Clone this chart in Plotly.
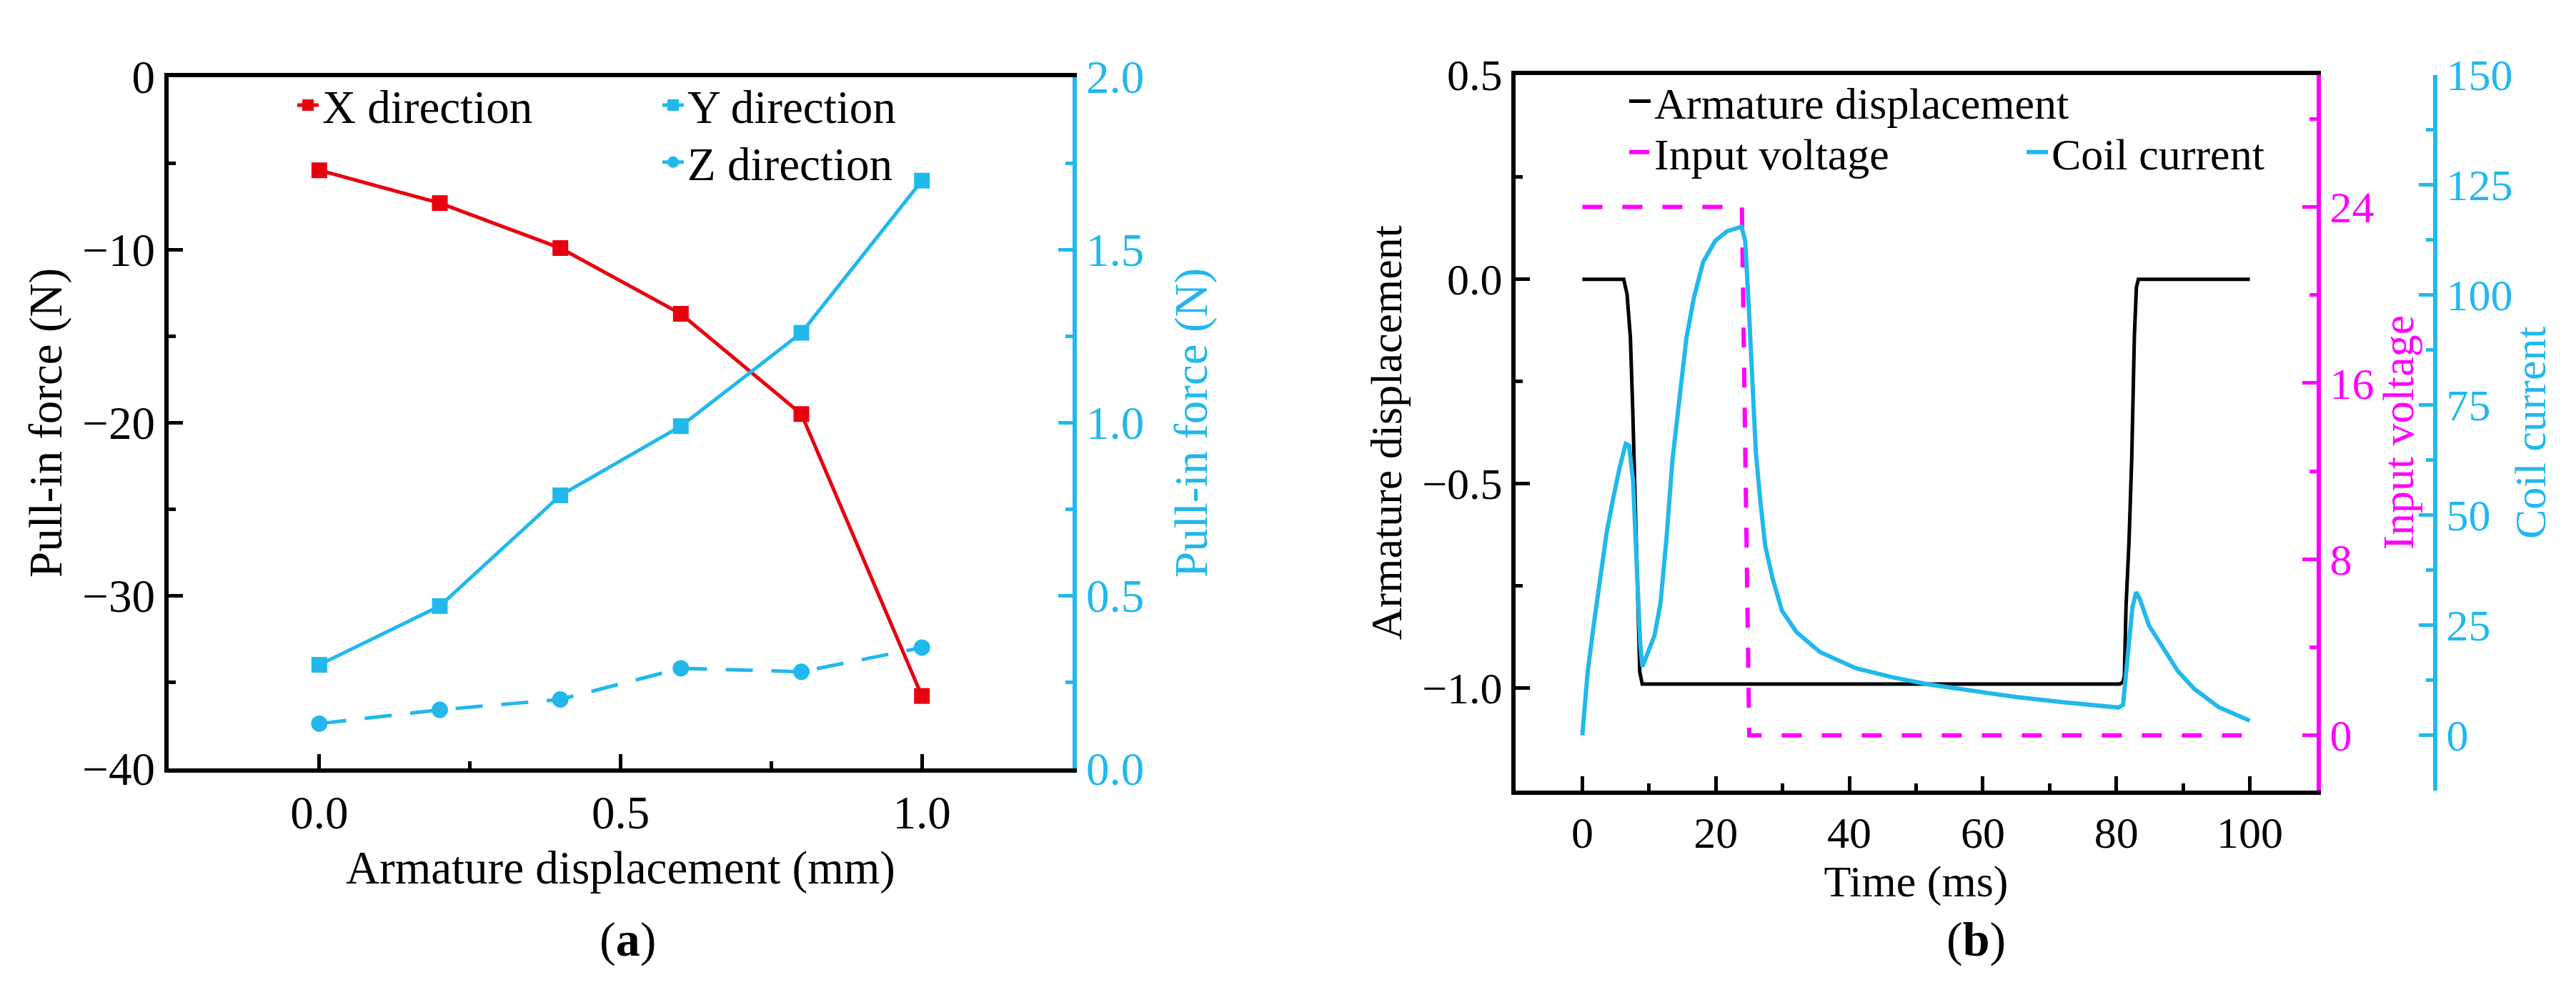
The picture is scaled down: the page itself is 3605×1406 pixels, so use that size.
import plotly.graph_objects as go

# ---- panel (a): pull-in force vs armature displacement ----
disp_mm = [0.0, 0.2, 0.4, 0.6, 0.8, 1.0]
force_x = [-5.4, -7.3, -9.9, -13.7, -19.5, -35.8]
force_y = [0.30, 0.47, 0.79, 0.99, 1.26, 1.70]
force_z = [0.13, 0.17, 0.20, 0.29, 0.28, 0.35]

# ---- panel (b): dynamic response ----
arm_t = [0, 6.2, 6.7, 7.2, 7.55, 7.9, 8.26, 8.6, 8.97, 80.5, 81.0, 81.2, 81.45,
         81.9, 82.3, 82.7, 83.0, 83.3, 100]
arm_disp = [0, 0, -0.037, -0.143, -0.319, -0.538, -0.76, -0.96, -0.99, -0.99,
            -0.985, -0.97, -0.80, -0.64, -0.44, -0.14, -0.02, 0, 0]

volt_t = [0, 23.9, 25.0, 100]
volt = [24, 24, 0, 0]

cur_t = [0, 0.8, 1.7, 2.6, 3.66, 4.7, 5.6, 6.5, 7.0, 7.6, 8.1, 8.66, 9.0, 9.56,
         10.8, 11.7, 12.6, 13.5, 14.55, 15.6, 16.7, 18.1, 19.9, 21.7, 23.85,
         24.4, 24.9, 25.45, 26.0, 26.7, 27.4, 28.5, 29.9, 32.1, 35.6, 41.0,
         46.4, 51.7, 57.8, 64.9, 72.1, 80.3, 81.0, 81.7, 82.4, 82.95, 83.5,
         84.9, 86.4, 89.2, 91.7, 95.3, 100]
cur = [0, 14.4, 25, 34.8, 46.2, 54.4, 60.9, 66.2, 65.8, 57.7, 41.4, 21, 15.6,
       17.6, 22.6, 29.9, 44.6, 62.6, 77.3, 90.3, 99.3, 107.5, 112.3, 114.5,
       115.5, 112.3, 98.3, 80.4, 64.1, 52.7, 43, 35.6, 28.3, 23.4, 18.9, 15.2,
       13.2, 11.6, 10.2, 8.7, 7.5, 6.3, 6.9, 18.7, 29, 32.5, 31, 24.9, 21.3,
       14.6, 10.5, 6.4, 3.3]

RED = '#E8000F'
CYAN = '#22B8EC'
MAGENTA = '#FF00FF'
FONT = 'Liberation Serif'
W, H = 3605, 1406
FA = 65  # font size panel a
FB = 62  # font size panel b

fig = go.Figure()

fig.add_trace(go.Scatter(x=disp_mm, y=force_x, name='X direction', mode='lines+markers',
                         line=dict(color=RED, width=5),
                         marker=dict(symbol='square', size=22, color=RED),
                         xaxis='x', yaxis='y', legend='legend'))
fig.add_trace(go.Scatter(x=disp_mm, y=force_y, name='Y direction', mode='lines+markers',
                         line=dict(color=CYAN, width=5),
                         marker=dict(symbol='square', size=22, color=CYAN),
                         xaxis='x', yaxis='y2', legend='legend2'))
fig.add_trace(go.Scatter(x=disp_mm, y=force_z, name='Z direction', mode='lines+markers',
                         line=dict(color=CYAN, width=5, dash='38px,26px'),
                         marker=dict(symbol='circle', size=23, color=CYAN),
                         xaxis='x', yaxis='y2', legend='legend3'))

fig.add_trace(go.Scatter(x=arm_t, y=arm_disp, name='Armature displacement', mode='lines',
                         line=dict(color='black', width=5),
                         xaxis='x2', yaxis='y3', legend='legend4'))
fig.add_trace(go.Scatter(x=volt_t, y=volt, name='Input voltage', mode='lines',
                         line=dict(color=MAGENTA, width=6, dash='28px,28px'),
                         xaxis='x2', yaxis='y4', legend='legend5'))
fig.add_trace(go.Scatter(x=cur_t, y=cur, name='Coil current', mode='lines',
                         line=dict(color=CYAN, width=6),
                         xaxis='x2', yaxis='y5', legend='legend6'))


def ax(color, size, **kw):
    d = dict(showgrid=False, zeroline=False, showline=True, linewidth=6,
             linecolor=color, ticks='inside', ticklen=20, tickwidth=5,
             tickcolor=color, tickfont=dict(family=FONT, size=size, color=color),
             title_font=dict(family=FONT, size=size, color=color))
    d.update(kw)
    return d


def leg(text_x, row_y, size):
    # text_x: where the entry text starts, row_y: row centre (pixels from top)
    return dict(x=(text_x - 45) / W, y=1 - row_y / H, xanchor='left', yanchor='middle',
                bgcolor='rgba(0,0,0,0)', font=dict(family=FONT, size=size))


ya_dom = [1 - 1088 / H, 1 - 68 / H]
yb_dom = [1 - 1120 / H, 1 - 65 / H]

fig.update_layout(
    width=W, height=H,
    showlegend=True,
    margin=dict(l=0, r=0, t=0, b=0),
    paper_bgcolor='white', plot_bgcolor='white',
    font=dict(family=FONT, size=FA, color='black'),
    xaxis=ax('black', FA, domain=[228 / W, 1493 / W], anchor='y', range=[-0.25, 1.25],
             tickvals=[0, 0.5, 1.0], tickformat='.1f', mirror=True,
             minor=dict(tickvals=[0.25, 0.75], ticks='inside', ticklen=10, tickwidth=5),
             title=dict(text='Armature displacement (mm)', standoff=20)),
    yaxis=ax('black', FA, domain=ya_dom, anchor='x', range=[-40, 0], dtick=10,
             minor=dict(dtick=5, ticks='inside', ticklen=10, tickwidth=5),
             title=dict(text='Pull-in force (N)', standoff=10)),
    yaxis2=ax(CYAN, FA, overlaying='y', side='right', anchor='x', range=[0, 2],
              dtick=0.5, tickformat='.1f',
              minor=dict(dtick=0.25, ticks='inside', ticklen=10, tickwidth=5),
              title=dict(text='Pull-in force (N)', standoff=45)),
    xaxis2=ax('black', FB, domain=[2113 / W, 3234 / W], anchor='y3', range=[-10, 110],
              dtick=20, mirror=True,
              minor=dict(dtick=10, ticks='inside', ticklen=10, tickwidth=5),
              title=dict(text='Time (ms)', standoff=15)),
    yaxis3=ax('black', FB, domain=yb_dom, anchor='x2', range=[-1.25, 0.5], dtick=0.5,
              tickformat='.1f',
              minor=dict(dtick=0.25, ticks='inside', ticklen=10, tickwidth=5),
              title=dict(text='Armature displacement', standoff=10)),
    yaxis4=ax(MAGENTA, FB, overlaying='y3', side='right', anchor='x2', range=[-2.5, 30],
              tickvals=[0, 8, 16, 24],
              minor=dict(tickvals=[4, 12, 20, 28], ticks='inside', ticklen=10, tickwidth=5),
              title=dict(text='Input voltage', standoff=0)),
    yaxis5=ax(CYAN, FB, overlaying='y3', side='right', anchor='free', position=3400 / W,
              range=[-12.5, 150], dtick=25,
              minor=dict(dtick=12.5, ticks='inside', ticklen=10, tickwidth=5),
              title=dict(text='Coil current', standoff=2)),
    legend=leg(448, 110, FA),
    legend2=leg(959, 110, FA),
    legend3=leg(959, 194, FA),
    legend4=leg(2312, 104, FB),
    legend5=leg(2312, 179, FB),
    legend6=leg(2868, 179, FB),
    annotations=[
        dict(text='(<b>a</b>)', x=870 / W, y=1 - 1340 / H, xref='paper', yref='paper',
             showarrow=False, font=dict(family=FONT, size=68), xanchor='center', yanchor='middle'),
        dict(text='(<b>b</b>)', x=2757 / W, y=1 - 1340 / H, xref='paper', yref='paper',
             showarrow=False, font=dict(family=FONT, size=68), xanchor='center', yanchor='middle'),
    ],
)

fig.write_html('out.html')
